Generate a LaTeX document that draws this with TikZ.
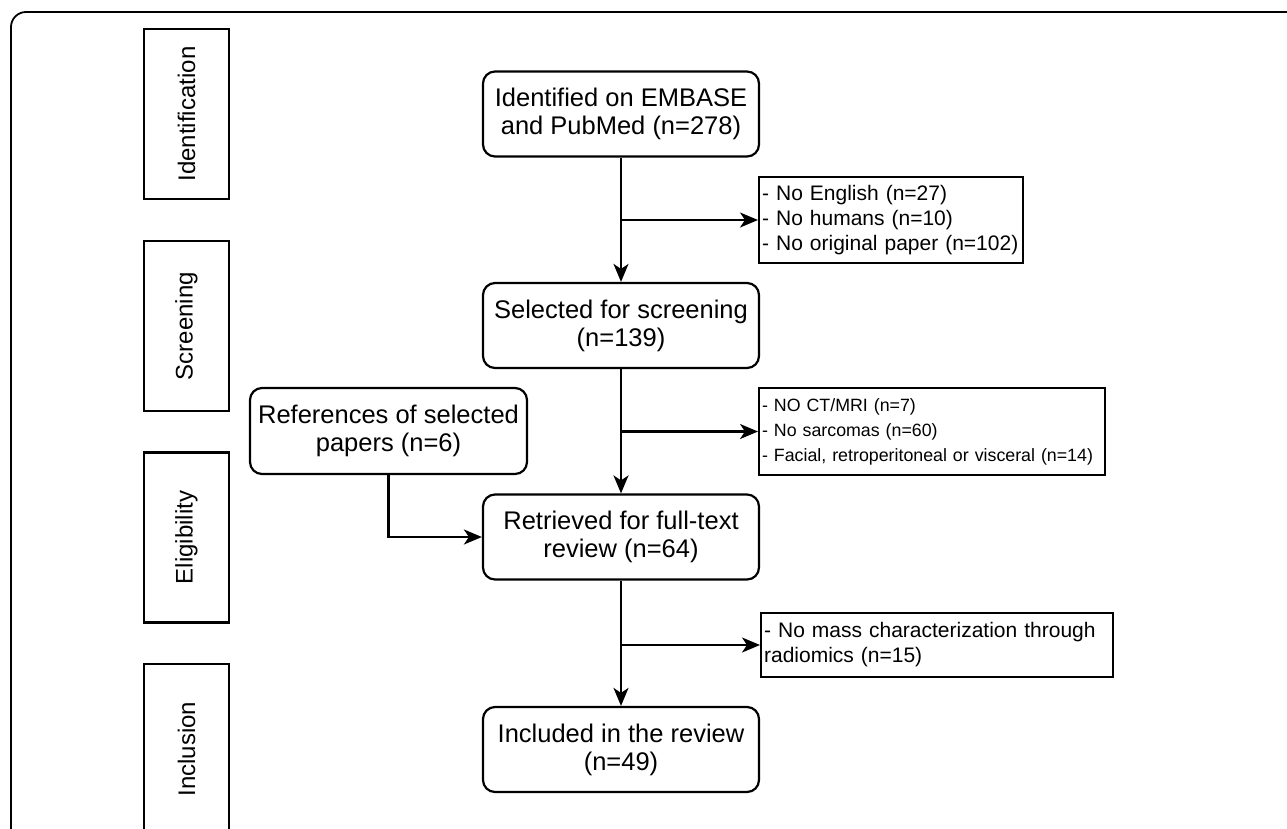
\documentclass[tikz,border=0pt]{standalone}
\usepackage{fontspec}
\setmainfont{Liberation Sans}
\usetikzlibrary{arrows.meta}
\tikzset{
  phase/.style={draw, line width=2.2pt, minimum width=170pt, minimum height=85pt, rotate=90, font=\fontsize{24}{28}\selectfont, inner sep=0pt},
  mainbox/.style={draw, line width=2.2pt, rounded corners=12pt, minimum width=276pt, minimum height=85pt, align=center, font=\fontsize{25.5}{28}\selectfont, inner sep=0pt},
  exbox/.style={draw, line width=2.2pt, align=left, anchor=west, inner xsep=3pt, inner ysep=0pt},
  exfont/.style={font=\fontsize{21}{25}\selectfont},
  exfontsmall/.style={font=\fontsize{17.8}{25}\selectfont},
  arr/.style={line width=2.2pt, -{Stealth[length=18pt,width=15pt,inset=5pt]}},
}
\begin{document}
\begin{tikzpicture}[x=1pt,y=-1pt]
\clip (0,0) rectangle (1287,828);
\fill[white] (0,0) rectangle (1287,828);
\draw[line width=1.8pt, rounded corners=15pt] (11,840) -- (11,12) -- (1300,12);
% phases
\node[phase] (pid) at (186.5,114) {Identification};
\node[phase] (psc) at (186.5,326) {Screening};
\node[phase] (pel) at (186.5,537.5) {Eligibility};
\node[phase] (pin) at (186.5,749) {Inclusion};
% main boxes
\node[mainbox] (ident) at (621,114) {Identified on EMBASE\\and PubMed (n=278)};
\node[mainbox] (sel) at (621,325.5) {Selected for screening\\(n=139)};
\node[mainbox] (ret) at (621,537) {Retrieved for full-text\\review (n=64)};
\node[mainbox] (inc) at (621,749.5) {Included in the review\\(n=49)};
\node[mainbox, minimum width=277pt, minimum height=86pt] (refs) at (388.5,431) {References of selected\\papers (n=6)};
% exclusion boxes
\node[exbox, exfont, text width=258pt, minimum height=86pt] (ex1) at (758,220) {- No English (n=27)\\- No humans (n=10)\\- No original paper (n=102)};
\node[exbox, exfontsmall, text width=340pt, minimum height=87pt] (ex2) at (758,431.5) {- NO CT/MRI (n=7)\\- No sarcomas (n=60)\\- Facial, retroperitoneal or visceral (n=14)};
\node[exbox, exfont, text width=346pt, minimum height=64pt] (ex3) at (760,645) {- No mass characterization through\\radiomics (n=15)};
% connectors
\draw[arr] (ident) -- (sel);
\draw[arr] (sel) -- (ret);
\draw[arr] (ret) -- (inc);
\draw[arr] (ident.south |- ex1.west) -- (ex1.west);
\draw[arr] (sel.south |- ex2.west) -- (ex2.west);
\draw[arr] (ret.south |- ex3.west) -- (ex3.west);
\draw[arr] (refs.south) |- (ret.west);
\end{tikzpicture}
\end{document}
